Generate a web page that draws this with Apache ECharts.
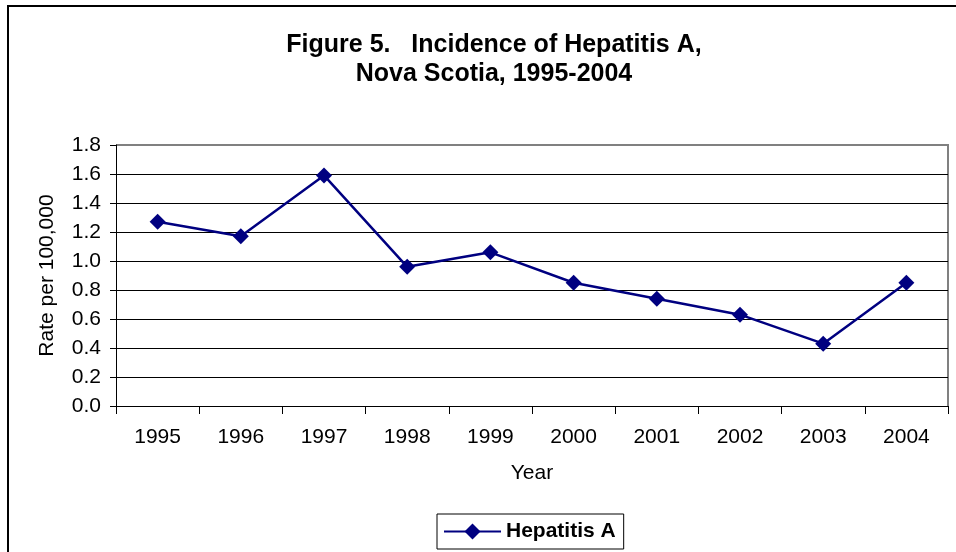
<!DOCTYPE html>
<html>
<head>
<meta charset="utf-8">
<script src="https://cdn.jsdelivr.net/npm/echarts@6/dist/echarts.min.js"></script>
<style>
  html, body { margin: 0; padding: 0; background: #fff; }
  #chart { width: 956px; height: 552px; }
</style>
</head>
<body>
<div id="chart"></div>
<script>
// Hepatitis A incidence, Nova Scotia
const years = ['1995', '1996', '1997', '1998', '1999', '2000', '2001', '2002', '2003', '2004'];
const ratePer100k = [1.27, 1.17, 1.59, 0.96, 1.06, 0.85, 0.74, 0.63, 0.43, 0.85];
const seriesName = 'Hepatitis A';

const font = 'Liberation Sans, Arial, sans-serif';
const chart = echarts.init(document.getElementById('chart'));

// black gridlines, grey at the top edge of the plot
const gridColors = ['#000', '#000', '#000', '#000', '#000', '#000', '#000', '#000', '#000', '#808080'];

chart.setOption({
  animation: false,
  backgroundColor: '#fff',
  title: {
    text: 'Figure 5.   Incidence of Hepatitis A,\nNova Scotia, 1995-2004',
    left: 489,
    top: 26,
    textAlign: 'center',
    textStyle: { fontFamily: font, fontSize: 25, fontWeight: 'bold', color: '#000', lineHeight: 29 }
  },
  graphic: [
    {
      type: 'rect',
      shape: { x: 8, y: 6, width: 1000, height: 600 },
      style: { fill: 'none', stroke: '#000', lineWidth: 2 },
      silent: true
    },
    {
      type: 'polyline',
      shape: { points: [[116, 145], [948, 145], [948, 406]] },
      style: { fill: 'none', stroke: '#808080', lineWidth: 2 },
      silent: true,
      z: 0
    }
  ],
  legend: {
    data: [seriesName],
    left: 437,
    top: 514,
    padding: [7, 8, 7, 6],
    borderColor: '#000',
    borderWidth: 1,
    itemWidth: 57,
    itemHeight: 20,
    itemGap: 4,
    textStyle: { fontFamily: font, fontSize: 21, fontWeight: 'bold', color: '#000' }
  },
  grid: { left: 116, right: 8, top: 145, bottom: 146, containLabel: false },
  xAxis: {
    type: 'category',
    data: years,
    boundaryGap: true,
    name: 'Year',
    nameLocation: 'middle',
    nameGap: 57,
    nameTextStyle: { fontFamily: font, fontSize: 21, color: '#000' },
    axisLine: { show: true, lineStyle: { color: '#000', width: 1 } },
    axisTick: { show: true, alignWithLabel: false, length: 8, lineStyle: { color: '#000' } },
    axisLabel: { fontFamily: font, fontSize: 21, color: '#000', margin: 21 },
    splitLine: { show: false }
  },
  yAxis: {
    type: 'value',
    min: 0,
    max: 1.8,
    interval: 0.2,
    name: 'Rate per 100,000',
    nameLocation: 'middle',
    nameGap: 58,
    nameTextStyle: { fontFamily: font, fontSize: 21, color: '#000' },
    axisLine: { show: true, lineStyle: { color: '#000', width: 1 } },
    axisTick: { show: true, length: 6, lineStyle: { color: '#000' } },
    axisLabel: {
      fontFamily: font, fontSize: 21, color: '#000', margin: 15,
      formatter: v => v.toFixed(1)
    },
    splitLine: { show: true, lineStyle: { color: gridColors, width: 1 } }
  },
  series: [{
    name: seriesName,
    type: 'line',
    data: ratePer100k,
    symbol: 'diamond',
    symbolSize: 16,
    itemStyle: { color: '#000080' },
    lineStyle: { color: '#000080', width: 2.5 },
    z: 5
  }]
});
</script>
</body>
</html>
